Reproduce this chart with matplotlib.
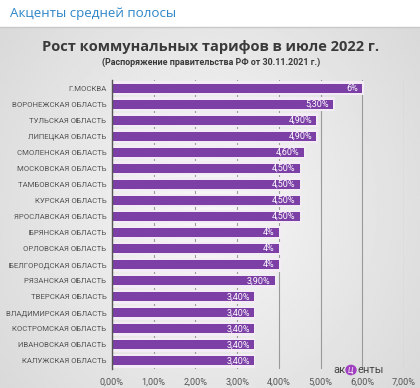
import numpy as np
import matplotlib
matplotlib.use("Agg")
import matplotlib.pyplot as plt
from matplotlib.patches import Circle

categories = ["Г.МОСКВА", "ВОРОНЕЖСКАЯ ОБЛАСТЬ", "ТУЛЬСКАЯ ОБЛАСТЬ", "ЛИПЕЦКАЯ ОБЛАСТЬ",
              "СМОЛЕНСКАЯ ОБЛАСТЬ", "МОСКОВСКАЯ ОБЛАСТЬ", "ТАМБОВСКАЯ ОБЛАСТЬ", "КУРСКАЯ ОБЛАСТЬ",
              "ЯРОСЛАВСКАЯ ОБЛАСТЬ", "БРЯНСКАЯ ОБЛАСТЬ", "ОРЛОВСКАЯ ОБЛАСТЬ", "БЕЛГОРОДСКАЯ ОБЛАСТЬ",
              "РЯЗАНСКАЯ ОБЛАСТЬ", "ТВЕРСКАЯ ОБЛАСТЬ", "ВЛАДИМИРСКАЯ ОБЛАСТЬ", "КОСТРОМСКАЯ ОБЛАСТЬ",
              "ИВАНОВСКАЯ ОБЛАСТЬ", "КАЛУЖСКАЯ ОБЛАСТЬ"]
values = [6.0, 5.3, 4.9, 4.9, 4.6, 4.5, 4.5, 4.5, 4.5, 4.0, 4.0, 4.0, 3.9, 3.4, 3.4, 3.4, 3.4, 3.4]
value_labels = ["6%", "5,30%", "4,90%", "4,90%", "4,60%", "4,50%", "4,50%", "4,50%", "4,50%",
                "4%", "4%", "4%", "3,90%", "3,40%", "3,40%", "3,40%", "3,40%", "3,40%"]
xticks = [0, 1, 2, 3, 4, 5, 6, 7]
xtick_labels = ["0,00%", "1,00%", "2,00%", "3,00%", "4,00%", "5,00%", "6,00%", "7,00%"]

W, H = 420, 388
fig = plt.figure(figsize=(W/100, H/100), dpi=100)
FONT = ["Roboto", "DejaVu Sans"]

# background gradient
bg = fig.add_axes([0, 0, 1, 1 - 27/H])
bg.set_axis_off()
xx, yy = np.meshgrid(np.linspace(-1, 1, 200), np.linspace(-1, 1, 200))
r = np.sqrt(xx**2 * 0.9 + yy**2 * 0.5)
img = 0.97 - 0.10 * np.clip(r, 0, 1.3)
bg.imshow(img, cmap="gray", vmin=0, vmax=1, aspect="auto", extent=[0, 1, 0, 1])
bg.set_xlim(0, 1); bg.set_ylim(0, 1)

fig.text(10/W, 1 - 14/H, "Акценты средней полосы", color="#2e86c8", fontsize=9.6,
         family=["Open Sans", "DejaVu Sans"], va="center", ha="left")
fig.add_artist(plt.Line2D([0, 1], [1 - 27/H, 1 - 27/H], color="#c8c8c8", lw=1))

fig.text(211/W, 1 - 47/H, "Рост коммунальных тарифов в июле 2022 г.", color="#3a3a3a",
         fontsize=10.5, fontweight="bold", family=["Open Sans", "DejaVu Sans"], ha="center", va="center")
fig.text(211/W, 1 - 62/H, "(Распоряжение правительства РФ от 30.11.2021 г.)", color="#3a3a3a",
         fontsize=6.4, fontweight="bold", family=FONT, ha="center", va="center")

ax = fig.add_axes([112/W, 1 - 369/H, 292/W, 289/H])
ax.patch.set_alpha(0)
y = np.arange(len(categories))
ax.barh(y, [v + 0.04 for v in values], height=0.86, color="#f3ecf5", zorder=2)
ax.barh(y, values, height=0.56, color="#7b3fa6", zorder=3)
for yi, v, lab in zip(y, values, value_labels):
    ax.text(v - 0.1, yi, lab, color="white", fontsize=6.5, ha="right", va="center",
            family=FONT, zorder=4)
ax.set_xlim(0, 7)
ax.set_ylim(17.5, -0.5)
ax.set_xticks(xticks)
ax.set_xticklabels(xtick_labels, family=FONT, fontsize=6.6, color="#555555")
ax.set_yticks(y)
ax.set_yticklabels(categories, family=FONT, fontsize=5.6, color="#555555")
ax.tick_params(length=0, pad=4)
ax.tick_params(axis="x", pad=6)
ax.grid(axis="x", color="#9a9a9a", lw=0.8, zorder=2.5)
for s in ["top", "right", "bottom"]:
    ax.spines[s].set_visible(False)
ax.spines["left"].set_color("#555555")
ax.spines["left"].set_linewidth(1)
ax.spines["left"].set_zorder(5)

# logo
ly = 1 - 370/H
fig.add_artist(Circle((351/W, ly), 5.0/W, transform=fig.transFigure, color="#a040c0", zorder=10))
fig.text(345/W, ly, "ак", fontsize=8, color="#444444", ha="right", va="center", family=FONT, zorder=11)
fig.text(351/W, ly, "ц", fontsize=7, color="#f0e0f0", ha="center", va="center", family=FONT, zorder=11, style="italic")
fig.text(357/W, ly, "енты", fontsize=8, color="#444444", ha="left", va="center", family=FONT, zorder=11)

fig.savefig("out.png", dpi=100)
